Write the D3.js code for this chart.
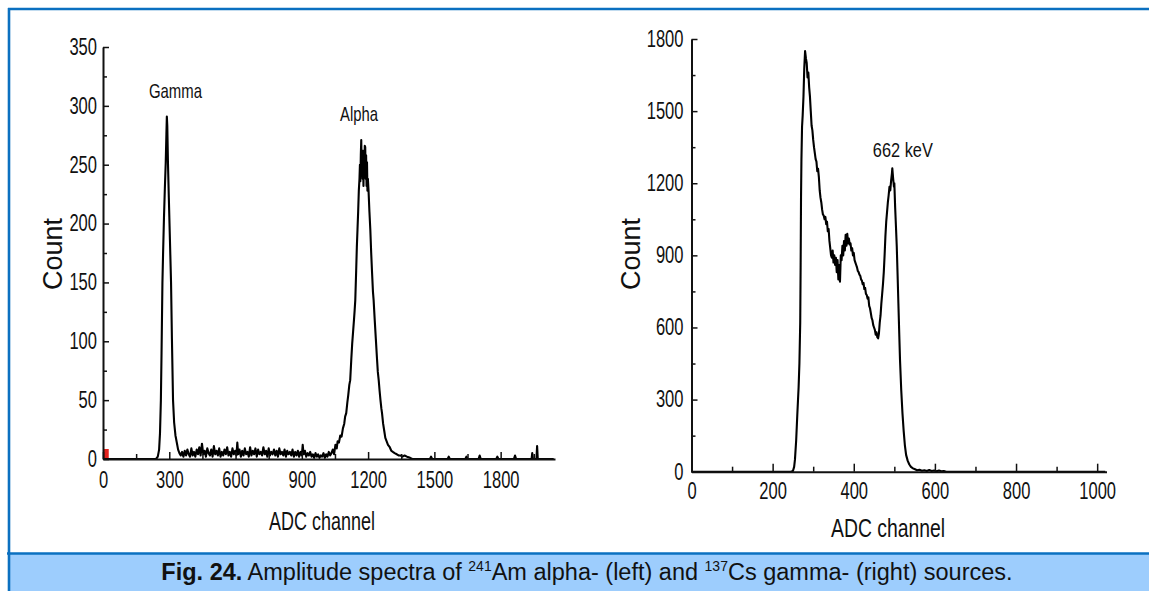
<!DOCTYPE html>
<html>
<head>
<meta charset="utf-8">
<script src="https://cdn.jsdelivr.net/npm/d3@7"></script>
<style>
  html, body { margin: 0; padding: 0; background: #fff; }
  svg { display: block; }
  text { fill: #111; }
  .narrow { font-family: "Liberation Sans Narrow", "Liberation Sans", Arial, sans-serif; }
  .wide { font-family: "Liberation Sans", Arial, sans-serif; }
</style>
</head>
<body>
<svg id="chart" width="1149" height="591"></svg>
<script>
"use strict";

//am-241 spectrum, [channel, count]

const amSpectrum = [
  [0, 0], [100, 0], [200, 0], [240, 0], [248, 2], [254, 8], [258, 22], [262, 50], [265, 90],
  [269, 150], [272, 175], [276, 205], [280, 230], [284, 252], [287, 276], [289, 291], [291, 283],
  [294, 252], [298, 222], [303, 186], [308, 150], [312, 102], [317, 50], [322, 31], [328, 20],
  [334, 14], [340, 8], [346, 5], [352, 3], [358, 6], [364, 2], [370, 7], [376, 3], [382, 8],
  [388, 4], [394, 2], [400, 9], [406, 3], [412, 6], [418, 2], [424, 8], [430, 4], [436, 10],
  [442, 3], [448, 13], [454, 4], [460, 7], [466, 2], [472, 9], [478, 5], [484, 3], [490, 8],
  [496, 2], [502, 11], [508, 4], [514, 7], [520, 3], [526, 9], [532, 2], [538, 6], [544, 3],
  [550, 8], [556, 4], [562, 10], [568, 3], [574, 6], [580, 2], [586, 9], [592, 4], [598, 7],
  [604, 3], [608, 14], [612, 4], [618, 8], [624, 2], [630, 7], [636, 3], [642, 9], [648, 4],
  [654, 6], [660, 2], [666, 10], [672, 3], [678, 7], [684, 4], [690, 9], [696, 2], [702, 8],
  [708, 4], [714, 6], [720, 3], [726, 10], [732, 4], [738, 7], [744, 2], [750, 9], [756, 3],
  [762, 6], [768, 4], [774, 8], [780, 3], [786, 7], [792, 2], [798, 9], [804, 4], [810, 6],
  [816, 3], [822, 8], [828, 2], [834, 7], [840, 4], [846, 6], [852, 3], [858, 8], [864, 2],
  [870, 6], [876, 3], [882, 7], [888, 2], [894, 6], [900, 3], [904, 12], [908, 4], [914, 7],
  [920, 2], [926, 5], [932, 3], [938, 6], [944, 2], [950, 4], [956, 1], [962, 5], [968, 2],
  [974, 4], [980, 1], [986, 3], [992, 2], [998, 5], [1004, 1], [1010, 4], [1016, 2], [1022, 6],
  [1028, 3], [1034, 5], [1040, 8], [1046, 4], [1052, 12], [1058, 9], [1062, 15], [1068, 14],
  [1074, 20], [1080, 19], [1086, 26], [1092, 30], [1096, 36], [1101, 39], [1106, 48], [1110, 54],
  [1115, 63], [1119, 67], [1124, 85], [1128, 98], [1132, 108], [1136, 118], [1139, 126],
  [1142, 135], [1146, 160], [1149, 180], [1152, 195], [1155, 210], [1158, 228], [1161, 238],
  [1163, 250], [1165, 236], [1167, 258], [1169, 271], [1171, 244], [1173, 262], [1175, 238],
  [1177, 260], [1179, 232], [1181, 262], [1183, 240], [1185, 266], [1187, 265], [1189, 238],
  [1191, 258], [1193, 232], [1195, 252], [1197, 228], [1199, 238], [1202, 228], [1206, 210],
  [1210, 195], [1214, 175], [1218, 158], [1222, 142], [1225, 135], [1230, 118], [1235, 102],
  [1240, 86], [1244, 74], [1248, 67], [1252, 58], [1256, 50], [1260, 43], [1263, 39], [1268, 30],
  [1273, 24], [1278, 18], [1284, 15], [1290, 12], [1298, 10], [1305, 7], [1312, 6], [1320, 5],
  [1330, 4], [1338, 3], [1346, 3], [1355, 2], [1365, 3], [1376, 2], [1390, 1], [1400, 0],
  [1480, 0], [1485, 2], [1490, 0], [1560, 0], [1565, 2], [1570, 0], [1640, 0], [1645, 2],
  [1650, 0], [1700, 0], [1705, 3], [1710, 0], [1780, 0], [1785, 2], [1790, 0], [1860, 0],
  [1865, 3], [1870, 0], [1940, 0], [1943, 5], [1946, 0], [1962, 0], [1965, 11], [1968, 0],
  [2040, 0]
];

//cs-137 spectrum, [channel, count]

const csSpectrum = [
  [0, 0], [100, 0], [200, 0], [245, 0], [250, 3], [253, 20], [255, 50], [258, 130], [261, 244],
  [264, 350], [266, 450], [268, 620], [269, 850], [270, 1144], [271, 1300], [272.5, 1435],
  [274, 1480], [276, 1560], [278, 1680], [280, 1750], [282, 1720], [284, 1700], [286, 1640],
  [288, 1660], [290, 1600], [292, 1560], [294, 1500], [296, 1440], [298, 1420], [300, 1380],
  [302, 1350], [304, 1325], [306, 1300], [308, 1290], [310, 1250], [312, 1260], [314, 1225],
  [316, 1170], [318, 1140], [320, 1120], [322, 1090], [324, 1070], [326, 1065], [328, 1050],
  [330, 1060], [332, 1030], [334, 1040], [336, 1000], [338, 1010], [340, 960], [342, 930],
  [344, 900], [346, 890], [348, 920], [350, 870], [352, 900], [354, 860], [356, 890], [358, 830],
  [360, 880], [362, 800], [364, 860], [366, 790], [368, 900], [370, 880], [372, 940], [374, 900],
  [376, 960], [378, 920], [380, 985], [382, 940], [384, 990], [386, 950], [388, 970], [390, 945],
  [392, 950], [394, 920], [396, 930], [398, 900], [400, 910], [402, 880], [404, 870], [406, 860],
  [408, 850], [410, 835], [412, 830], [414, 820], [416, 815], [418, 800], [420, 795], [422, 780],
  [424, 785], [426, 760], [428, 765], [430, 740], [432, 735], [434, 720], [436, 725], [438, 690],
  [440, 680], [442, 660], [444, 640], [446, 630], [448, 610], [450, 600], [452, 590], [454, 570],
  [456, 580], [458, 560], [460, 555], [462, 575], [464, 620], [466, 650], [468, 700], [470, 740],
  [472, 780], [474, 830], [476, 900], [478, 980], [480, 1040], [482, 1080], [484, 1120],
  [486, 1150], [488, 1185], [490, 1170], [492, 1210], [494, 1240], [495, 1262], [497, 1220],
  [499, 1186], [500, 1200], [502, 1100], [504, 1020], [506, 936], [508, 820], [510, 700],
  [512, 580], [514, 465], [517, 340], [520, 244], [523, 170], [526, 110], [529, 70], [533, 45],
  [537, 30], [541, 20], [546, 14], [551, 10], [556, 6], [562, 8], [568, 4], [574, 6], [580, 3],
  [586, 7], [592, 3], [598, 5], [604, 2], [610, 5], [616, 2], [622, 3], [628, 0], [700, 0],
  [800, 0], [900, 0], [1000, 0], [1020, 0]
];

//red region marker on the am-241 plot, [from channel, to channel, count]

const amMarker = [[0, 26, 8.5]];

//ticks

const amChannelTicks = [0, 300, 600, 900, 1200, 1500, 1800];
const amChannelMinor = [150, 450, 750, 1050, 1350, 1650, 1950];
const amCountTicks = [0, 50, 100, 150, 200, 250, 300, 350];
const amCountMinor = [25, 75, 125, 175, 225, 275, 325];

const csChannelTicks = [0, 200, 400, 600, 800, 1000];
const csChannelMinor = [100, 300, 500, 700, 900];
const csCountTicks = [0, 300, 600, 900, 1200, 1500, 1800];
const csCountMinor = [150, 450, 750, 1050, 1350, 1650];

//peak labels, [text, channel, count]

const amLabels = [["Gamma", 328, 307], ["Alpha", 1159, 287]];
const csLabels = [["662 keV", 521, 1309]];

//label widths in px (the source font is condensed)

const labelWidth = { "Gamma": 53, "Alpha": 38, "662 keV": 60 };

//scales

const svg = d3.select("#chart");

const xAm = d3.scaleLinear().domain([0, 2046]).range([103, 555]);
const yAm = d3.scaleLinear().domain([0, 350]).range([459, 47]);

const xCs = d3.scaleLinear().domain([0, 1023]).range([691.5, 1106.5]);
const yCs = d3.scaleLinear().domain([0, 1800]).range([471.7, 39]);

//frame and caption band

svg.append("rect")
  .attr("x", 9).attr("y", 554)
  .attr("width", 1140).attr("height", 37)
  .attr("fill", "#9dcdfd");

svg.append("line")
  .attr("x1", 7).attr("x2", 1149).attr("y1", 553.5).attr("y2", 553.5)
  .attr("stroke", "#0b70c0").attr("stroke-width", 2.6);

svg.append("line")
  .attr("x1", 8).attr("x2", 1149).attr("y1", 9).attr("y2", 9)
  .attr("stroke", "#0b70c0").attr("stroke-width", 2.6);

svg.append("line")
  .attr("x1", 9).attr("x2", 9).attr("y1", 8).attr("y2", 591)
  .attr("stroke", "#0b70c0").attr("stroke-width", 2.6);

//tick label squeeze

const squeeze = (sel, perChar) => {

  sel.attr("textLength", (d) => String(d).length * perChar)
    .attr("lengthAdjust", "spacingAndGlyphs");

};

//axes

const drawAxes = (x, y, ticks, pads) => {

  const bottom = y.range()[0];
  const left = x.range()[0];
  const fmt = d3.format("d");

  const style = (g) => {
    g.attr("font-size", null).attr("font-family", null);
    g.select(".domain").attr("stroke", "#111").attr("stroke-width", 2);
    g.selectAll(".tick line").attr("stroke", "#111").attr("stroke-width", 1.5);
    g.selectAll(".tick text").attr("class", "narrow").style("font-size", "23px");
  };

  //x minor

  svg.append("g")
    .attr("transform", `translate(0, ${bottom})`)
    .call(d3.axisBottom(x).tickValues(ticks.xMinor).tickFormat("").tickSizeInner(-5).tickSizeOuter(0))
    .call(style)
    .call((g) => g.select(".domain").remove());

  //y minor

  svg.append("g")
    .attr("transform", `translate(${left}, 0)`)
    .call(d3.axisLeft(y).tickValues(ticks.yMinor).tickFormat("").tickSizeInner(-4).tickSizeOuter(0))
    .call(style)
    .call((g) => g.select(".domain").remove());

  //x major

  svg.append("g")
    .attr("transform", `translate(0, ${bottom})`)
    .call(d3.axisBottom(x).tickValues(ticks.x).tickFormat(fmt).tickSizeInner(-pads.xTick).tickSizeOuter(0).tickPadding(pads.x))
    .call(style)
    .call((g) => squeeze(g.selectAll(".tick text"), 9.2));

  //y major

  svg.append("g")
    .attr("transform", `translate(${left}, 0)`)
    .call(d3.axisLeft(y).tickValues(ticks.y).tickFormat(fmt).tickSizeInner(-6).tickSizeOuter(0).tickPadding(pads.y))
    .call(style)
    .call((g) => squeeze(g.selectAll(".tick text"), 9.2));

};

//spectrum line

const drawSpectrum = (data, x, y) => {

  const lineFn = d3.line()
    .x((d) => x(d[0]))
    .y((d) => y(d[1]));

  svg.append("path")
    .datum(data)
    .attr("d", lineFn)
    .attr("fill", "none")
    .attr("stroke", "#000")
    .attr("stroke-width", 2.1)
    .attr("stroke-linejoin", "round");

};

//peak labels

const drawLabels = (labels, x, y) => {

  svg.append("g")
    .selectAll("text")
    .data(labels)
    .enter()
    .append("text")
    .attr("class", "narrow")
    .attr("x", (d) => x(d[1]))
    .attr("y", (d) => y(d[2]))
    .attr("text-anchor", "middle")
    .style("font-size", "21px")
    .attr("textLength", (d) => labelWidth[d[0]])
    .attr("lengthAdjust", "spacingAndGlyphs")
    .text((d) => d[0]);

};

//axis titles

const drawTitles = (countX, channelX, channelY, channelLen) => {

  svg.append("text")
    .attr("class", "wide")
    .attr("transform", `translate(${countX}, 254) rotate(-90)`)
    .attr("text-anchor", "middle")
    .style("font-size", "27px")
    .text("Count");

  svg.append("text")
    .attr("class", "narrow")
    .attr("x", channelX)
    .attr("y", channelY)
    .attr("text-anchor", "middle")
    .style("font-size", "26px")
    .attr("textLength", channelLen)
    .attr("lengthAdjust", "spacingAndGlyphs")
    .text("ADC channel");

};

//left plot

svg.append("g")
  .selectAll("rect")
  .data(amMarker)
  .enter()
  .append("rect")
  .attr("x", (d) => xAm(d[0]))
  .attr("width", (d) => xAm(d[1]) - xAm(d[0]))
  .attr("y", (d) => yAm(d[2]))
  .attr("height", (d) => yAm(0) - yAm(d[2]))
  .attr("fill", "#e3221d");

drawSpectrum(amSpectrum, xAm, yAm);

drawAxes(xAm, yAm, {
  x: amChannelTicks, xMinor: amChannelMinor, y: amCountTicks, yMinor: amCountMinor
}, { x: 13, y: 6, xTick: 7 });

drawLabels(amLabels, xAm, yAm);
drawTitles(62, 322, 530, 106);

//right plot

drawSpectrum(csSpectrum, xCs, yCs);

drawAxes(xCs, yCs, {
  x: csChannelTicks, xMinor: csChannelMinor, y: csCountTicks, yMinor: csCountMinor
}, { x: 11, y: 8, xTick: 8 });

drawLabels(csLabels, xCs, yCs);
drawTitles(640, 888, 537, 114);

//caption

const caption = svg.append("text")
  .attr("class", "wide")
  .attr("x", 587)
  .attr("y", 580)
  .attr("text-anchor", "middle")
  .style("font-size", "23.5px");

caption.append("tspan").attr("font-weight", "bold").text("Fig. 24.");
caption.append("tspan").text(" Amplitude spectra of ");
caption.append("tspan").attr("dy", -9).style("font-size", "14px").text("241");
caption.append("tspan").attr("dy", 9).text("Am alpha- (left) and ");
caption.append("tspan").attr("dy", -9).style("font-size", "14px").text("137");
caption.append("tspan").attr("dy", 9).text("Cs gamma- (right) sources.");

</script>
</body>
</html>
